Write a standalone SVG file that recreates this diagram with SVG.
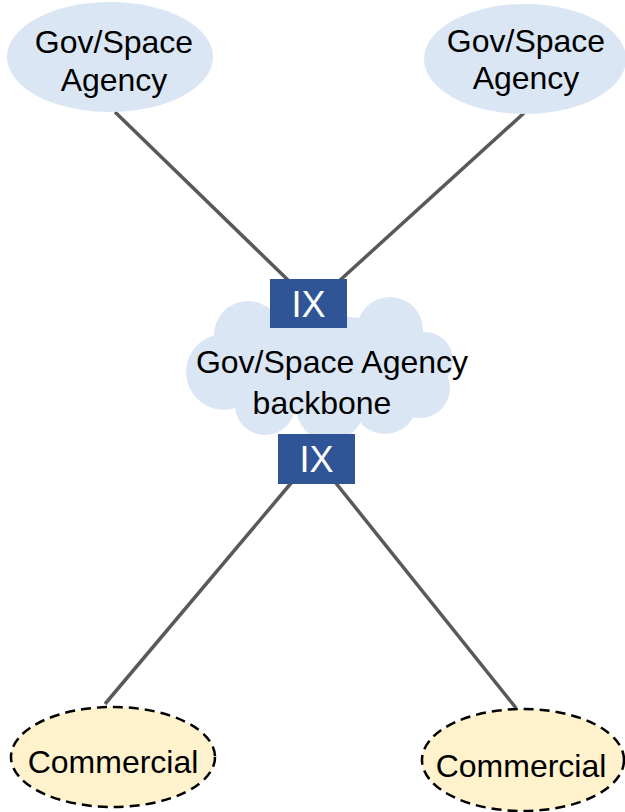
<svg xmlns="http://www.w3.org/2000/svg" width="625" height="812" viewBox="0 0 625 812">
<style>
.lbl{font-family:"Liberation Sans",Arial,sans-serif;font-size:32px;fill:#000;text-anchor:middle}
.ix{font-family:"Liberation Sans",Arial,sans-serif;font-size:36px;fill:#fff;text-anchor:middle}
.gov{fill:#DAE6F3;stroke:none}
.com{fill:#FFF2CC;stroke:#000;stroke-width:2.5;stroke-dasharray:10 6}
.box{fill:#2F5597}
.conn line{stroke:#595959;stroke-width:3.5}
</style>
<rect width="625" height="812" fill="#fff"/>
<g id="connectors" class="conn">
<line x1="115" y1="112" x2="290" y2="282"/>
<line x1="524" y1="113" x2="338" y2="282"/>
<line x1="292" y1="482" x2="105" y2="704"/>
<line x1="335" y1="482" x2="516" y2="708"/>
</g>
<g id="gov1">
<ellipse class="gov" cx="110" cy="57" rx="103" ry="55"/>
<text class="lbl" x="114" y="53">Gov/Space</text>
<text class="lbl" x="114" y="91">Agency</text>
</g>
<g id="gov2">
<ellipse class="gov" cx="525" cy="59" rx="101" ry="55"/>
<text class="lbl" x="526" y="52">Gov/Space</text>
<text class="lbl" x="526" y="89">Agency</text>
</g>
<g id="backbone">
<g fill="#DAE6F3">
<circle cx="224" cy="372" r="38"/>
<circle cx="248" cy="335" r="34"/>
<circle cx="305" cy="325" r="32"/>
<circle cx="390" cy="330" r="33"/>
<circle cx="425" cy="360" r="28"/>
<circle cx="420" cy="388" r="30"/>
<circle cx="385" cy="402" r="32"/>
<circle cx="330" cy="407" r="34"/>
<circle cx="265" cy="405" r="30"/>
<ellipse cx="320" cy="365" rx="110" ry="50"/>
</g>
<text class="lbl" x="332" y="373">Gov/Space Agency</text>
<text class="lbl" x="322" y="414">backbone</text>
</g>
<g id="ix1">
<rect class="box" x="270" y="279" width="77" height="49"/>
<text class="ix" x="308.5" y="317">IX</text>
</g>
<g id="ix2">
<rect class="box" x="278" y="434" width="77" height="50"/>
<text class="ix" x="316.5" y="472">IX</text>
</g>
<g id="com1">
<ellipse class="com" cx="113" cy="757" rx="102" ry="50"/>
<text class="lbl" x="113" y="773">Commercial</text>
</g>
<g id="com2">
<ellipse class="com" cx="523" cy="760" rx="101" ry="51"/>
<text class="lbl" x="521" y="777">Commercial</text>
</g>
</svg>
